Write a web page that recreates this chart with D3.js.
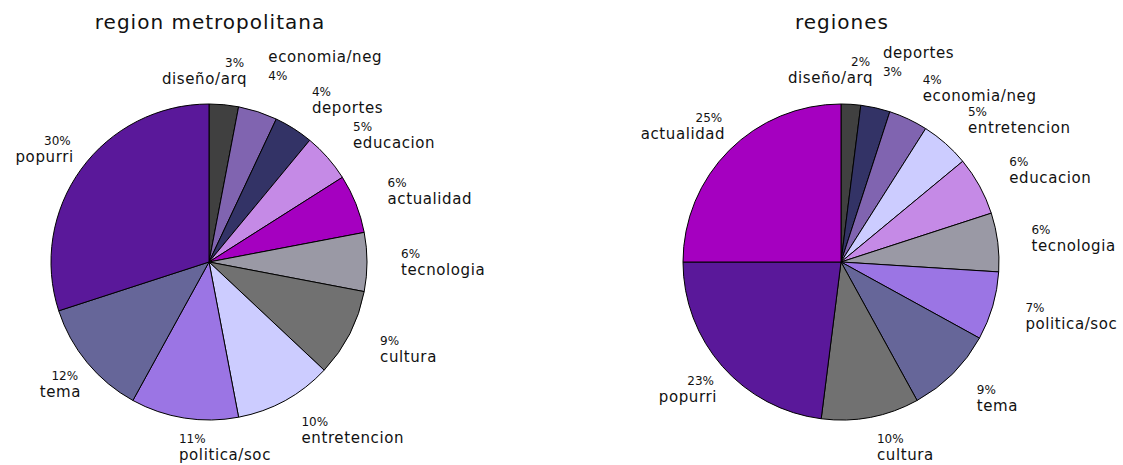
<!DOCTYPE html>
<html>
<head>
<meta charset="utf-8">
<script src="https://cdn.jsdelivr.net/npm/d3@7"></script>
<style>
  body { margin: 0; background: #fff; }
  text { font-family: "DejaVu Sans", sans-serif; fill: #111; }
  .title { font-size: 20px; letter-spacing: 1px; }
  .name  { font-size: 15px; letter-spacing: 0.6px; }
  .pct   { font-size: 12px; }
</style>
</head>
<body>
<svg id="chart" width="1123" height="465"></svg>
<script>
// data
const metroTitle = 'region metropolitana';
const metroCats  = [ 'diseño/arq', 'economia/neg', 'deportes', 'educacion', 'actualidad', 'tecnologia',
                     'cultura', 'entretencion', 'politica/soc', 'tema', 'popurri' ];
const metroVals  = [ 3, 4, 4, 5, 6, 6, 9, 10, 11, 12, 30 ];

const regionTitle = 'regiones';
const regionCats  = [ 'diseño/arq', 'deportes', 'economia/neg', 'entretencion', 'educacion', 'tecnologia',
                      'politica/soc', 'tema', 'cultura', 'popurri', 'actualidad' ];
const regionVals  = [ 2, 3, 4, 5, 6, 6, 7, 9, 10, 23, 25 ];

// one colour per category, same in both pies
const colorCats = [ 'diseño/arq', 'economia/neg', 'deportes', 'educacion', 'actualidad', 'tecnologia',
                    'cultura', 'entretencion', 'politica/soc', 'tema', 'popurri' ];
const palette   = [ '#404040', '#8064b0', '#333366', '#c58ae6', '#a500c0', '#9a99a5',
                    '#717171', '#ccccff', '#9b75e4', '#666699', '#5a189a' ];

const color = d3.scaleOrdinal().domain( colorCats ).range( palette );

const svg = d3.select( '#chart' );
const H = +svg.attr( 'height' );
const radius = 158;

function drawPie( cx, cy, title, cats, vals ) {

  const data = cats.map( (c, i) => ({ cat: c, v: vals[i] }) );
  const pie  = d3.pie().sort( null ).value( (d) => d.v );
  const arc  = d3.arc().innerRadius( 0 ).outerRadius( radius );
  const arcs = pie( data );

  const g = svg.append( 'g' )
               .attr( 'transform', `translate(${cx},${cy})` );

  // title
  svg.append( 'text' )
      .attr( 'class', 'title' )
      .attr( 'x', cx + 1 )
      .attr( 'y', 29 )
      .attr( 'text-anchor', 'middle' )
      .text( title );

  // slices
  g.selectAll( 'path' )
      .data( arcs )
    .enter().append( 'path' )
      .attr( 'd', arc )
      .style( 'fill', (d) => color( d.data.cat ) )
      .style( 'stroke', '#000' )
      .style( 'stroke-width', 1 )
      .style( 'stroke-linejoin', 'round' );

  // labels: anchor point just outside the pie along the mid angle
  const labelR = radius + 34;
  const labels = arcs.map( (d) => {
    const mid = (d.startAngle + d.endAngle) / 2,
          deg = mid * 180 / Math.PI,
          px  = labelR * Math.sin( mid ),
          right = (deg < 9 || deg > 200);
    // keep the block inside the picture
    const py = Math.min( -labelR * Math.cos( mid ), H - cy - 18 );
    return { d, px, py, right, x: right ? px + 20 : px, swap: false };
  } );

  const lg = g.selectAll( '.lbl' )
      .data( labels )
    .enter().append( 'g' )
      .attr( 'class', 'lbl' );

  lg.append( 'text' )
      .attr( 'class', 'pct' )
      .attr( 'text-anchor', (l) => l.right ? 'end' : 'start' )
      .text( (l) => Math.round( l.d.value ) + '%' );
  lg.append( 'text' )
      .attr( 'class', 'name' )
      .attr( 'text-anchor', (l) => l.right ? 'end' : 'start' )
      .text( (l) => l.d.data.cat );

  // measure label blocks
  lg.each( function( l ) {
    const w = Math.max( this.childNodes[0].getComputedTextLength(), this.childNodes[1].getComputedTextLength() );
    l.x0 = l.right ? l.x - w : l.x;
    l.x1 = l.x0 + w;
    l.y0 = l.py - 14;
    l.y1 = l.py + 16;
  } );

  // if a block runs into the next one, put the name on top and move it up
  labels.forEach( (l, i) => {
    const n = labels[ i + 1 ];
    if( !n ) return;
    const ox = Math.min( l.x1, n.x1 ) - Math.max( l.x0, n.x0 ),
          oy = Math.min( l.y1, n.y1 ) - Math.max( l.y0, n.y0 );
    if( ox > 0 && oy > 2 ) l.swap = true;
  } );

  // push a following block down a little when two stacked blocks touch
  labels.forEach( (l, i) => {
    const n = labels[ i + 1 ];
    if( !n || l.swap || n.py < l.py ) return;
    const ox = Math.min( l.x1, n.x1 ) - Math.max( l.x0, n.x0 );
    if( ox > 0 && n.py - l.py < 32 ) n.py = l.py + 32;
  } );

  lg.select( '.pct' )
      .attr( 'x', (l) => l.right ? l.x - 3 : l.x )
      .attr( 'y', (l) => l.swap ? l.py + 1 : l.py - 4 );
  lg.select( '.name' )
      .attr( 'x', (l) => l.x )
      .attr( 'y', (l) => l.swap ? l.py - 17 : l.py + 13 );
}

drawPie( 209, 262, metroTitle, metroCats, metroVals );
drawPie( 841, 262, regionTitle, regionCats, regionVals );
</script>
</body>
</html>
